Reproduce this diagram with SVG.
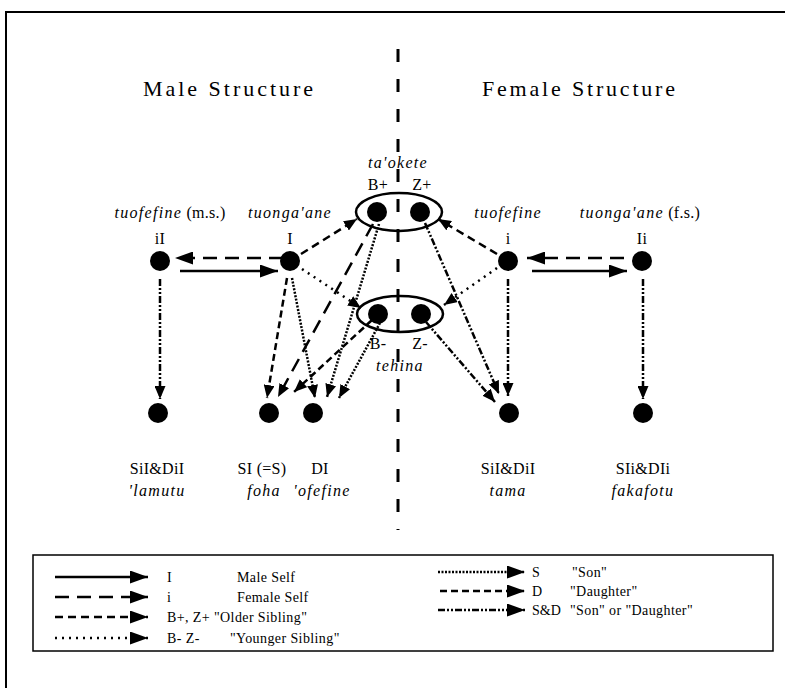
<svg xmlns="http://www.w3.org/2000/svg" width="785" height="688" viewBox="0 0 785 688">
<style>
text { font-family: "Liberation Serif", "Times New Roman", serif; fill:#000; }
.lbl { font-size:16px; text-anchor:middle; letter-spacing:0.3px; }
.it { font-style:italic; letter-spacing:1.3px; }
.title { font-size:22px; }
.leg { font-size:14px; letter-spacing:0.4px; }
.ell { fill:none; stroke:#000; stroke-width:2.5; }
.c { fill:none; stroke:#000; stroke-width:2.5; }
.long { stroke-dasharray:14 8; }
.older { stroke-dasharray:8 5; }
.younger { stroke-dasharray:2 5; }
.son { stroke-dasharray:2 1.5; }
.dau { stroke-dasharray:7 4; }
.sd { stroke-dasharray:7 2 2 2 2 2; }
.frame { fill:none; stroke:#000; stroke-width:2; }
</style>
<defs>
<marker id="ah" markerWidth="13" markerHeight="11" refX="13" refY="5.5" orient="auto" markerUnits="userSpaceOnUse"><path d="M0,0 L13,5.5 L0,11 z" fill="#000"/></marker>
<marker id="ahL" markerWidth="18" markerHeight="13" refX="18" refY="6.5" orient="auto" markerUnits="userSpaceOnUse"><path d="M0,0 L18,6.5 L0,13 z" fill="#000"/></marker>
</defs>

<path class="frame" d="M6,688 L6,12 L785,12"/>

<text class="title" x="143" y="96" textLength="170" lengthAdjust="spacing">Male Structure</text>
<text class="title" x="482" y="96" textLength="193" lengthAdjust="spacing">Female Structure</text>

<line x1="398" y1="49" x2="398" y2="530" stroke="#000" stroke-width="3" stroke-dasharray="13 17"/>

<g id="connectors">
<path class="c long" d="M283,258 L175,258" marker-end="url(#ahL)"/>
<path class="c" d="M180,271 L278,271" marker-end="url(#ahL)"/>
<path class="c long" d="M624,258 L527,258" marker-end="url(#ahL)"/>
<path class="c" d="M532,271 L627,271" marker-end="url(#ahL)"/>
<path class="c older" d="M301,254 L357,219" marker-end="url(#ah)"/>
<path class="c older" d="M497,254 L438,219" marker-end="url(#ah)"/>
<path class="c younger" d="M302,269 L361,308" marker-end="url(#ah)"/>
<path class="c younger" d="M497,268 L444,305" marker-end="url(#ah)"/>
<path class="c dau" d="M287,278 L267,398" marker-end="url(#ah)"/>
<path class="c son" d="M292,278 L315,398" marker-end="url(#ah)"/>
<path class="c long" d="M373,224 L278,397" marker-end="url(#ah)"/>
<path class="c son" d="M379,224 L327,397" marker-end="url(#ah)"/>
<path class="c dau" d="M372,320 L294,392" marker-end="url(#ah)"/>
<path class="c son" d="M380,323 L339,398" marker-end="url(#ah)"/>
<path class="c sd" d="M425,223 L499,394" marker-end="url(#ah)"/>
<path class="c sd" d="M426,322 L495,402" marker-end="url(#ah)"/>
<path class="c sd" d="M508,279 L508,396" marker-end="url(#ah)"/>
<path class="c sd" d="M160,279 L160,399" marker-end="url(#ah)"/>
<path class="c sd" d="M643,279 L643,399" marker-end="url(#ah)"/>
</g>

<g id="older">
<ellipse class="ell" cx="399" cy="212" rx="43" ry="19"/>
<text class="lbl it" x="398" y="168">ta'okete</text>
</g>
<g id="Bplus"><circle cx="377" cy="212" r="10"/><text class="lbl" x="378" y="190">B+</text></g>
<g id="Zplus"><circle cx="420" cy="212" r="10"/><text class="lbl" x="422" y="190">Z+</text></g>

<g id="younger">
<ellipse class="ell" cx="400" cy="314" rx="43" ry="18"/>
<text class="lbl it" x="400" y="371">tehina</text>
</g>
<g id="Bminus"><circle cx="378" cy="314" r="10"/><text class="lbl" x="378" y="349">B-</text></g>
<g id="Zminus"><circle cx="421" cy="314" r="10"/><text class="lbl" x="420" y="349">Z-</text></g>

<g id="iI"><circle cx="160" cy="261" r="10"/>
<text class="lbl" x="170" y="218"><tspan class="it">tuofefine</tspan> (m.s.)</text>
<text class="lbl" x="160" y="244">iI</text></g>
<g id="I"><circle cx="290" cy="261" r="10"/>
<text class="lbl it" x="290" y="218">tuonga'ane</text>
<text class="lbl" x="290" y="244">I</text></g>
<g id="i"><circle cx="508" cy="261" r="10"/>
<text class="lbl it" x="508" y="218">tuofefine</text>
<text class="lbl" x="508" y="244">i</text></g>
<g id="Ii"><circle cx="642" cy="261" r="10"/>
<text class="lbl" x="640" y="218"><tspan class="it">tuonga'ane</tspan> (f.s.)</text>
<text class="lbl" x="642" y="244">Ii</text></g>

<g id="lamutu"><circle cx="158" cy="413" r="10"/>
<text class="lbl" x="157" y="474">SiI&amp;DiI</text>
<text class="lbl it" x="157" y="496">'lamutu</text></g>
<g id="foha"><circle cx="269" cy="413" r="10"/>
<text class="lbl" x="262" y="474">SI (=S)</text>
<text class="lbl it" x="264" y="496">foha</text></g>
<g id="ofefine"><circle cx="313" cy="413" r="10"/>
<text class="lbl" x="320" y="474">DI</text>
<text class="lbl it" x="322" y="496">'ofefine</text></g>
<g id="tama"><circle cx="509" cy="413" r="10"/>
<text class="lbl" x="508" y="474">SiI&amp;DiI</text>
<text class="lbl it" x="508" y="496">tama</text></g>
<g id="fakafotu"><circle cx="643" cy="413" r="10"/>
<text class="lbl" x="643" y="474">SIi&amp;DIi</text>
<text class="lbl it" x="643" y="496">fakafotu</text></g>

<g id="legend">
<rect x="33" y="555" width="740" height="96" fill="none" stroke="#000" stroke-width="1.5"/>
<path class="c" d="M55,577 L148,577" marker-end="url(#ahL)"/>
<path class="c long" d="M55,597 L148,597" marker-end="url(#ahL)"/>
<path class="c older" d="M55,617 L148,617" marker-end="url(#ahL)"/>
<path class="c younger" d="M55,638 L148,638" marker-end="url(#ahL)"/>
<text class="leg" x="167" y="582">I</text><text class="leg" x="237" y="582">Male Self</text>
<text class="leg" x="167" y="602">i</text><text class="leg" x="237" y="602">Female Self</text>
<text class="leg" x="167" y="622">B+, Z+ "Older Sibling"</text>
<text class="leg" x="167" y="643">B- Z-</text><text class="leg" x="230" y="643">"Younger Sibling"</text>
<path class="c son" d="M438,572 L525,572" marker-end="url(#ahL)"/>
<path class="c dau" d="M440,591 L525,591" marker-end="url(#ahL)"/>
<path class="c sd" d="M438,610 L525,610" marker-end="url(#ahL)"/>
<text class="leg" x="532" y="577">S</text><text class="leg" x="572" y="577">"Son"</text>
<text class="leg" x="532" y="596">D</text><text class="leg" x="570" y="596">"Daughter"</text>
<text class="leg" x="532" y="615" style="letter-spacing:0">S&amp;D</text><text class="leg" x="570" y="615">"Son" or "Daughter"</text>
</g>
</svg>
